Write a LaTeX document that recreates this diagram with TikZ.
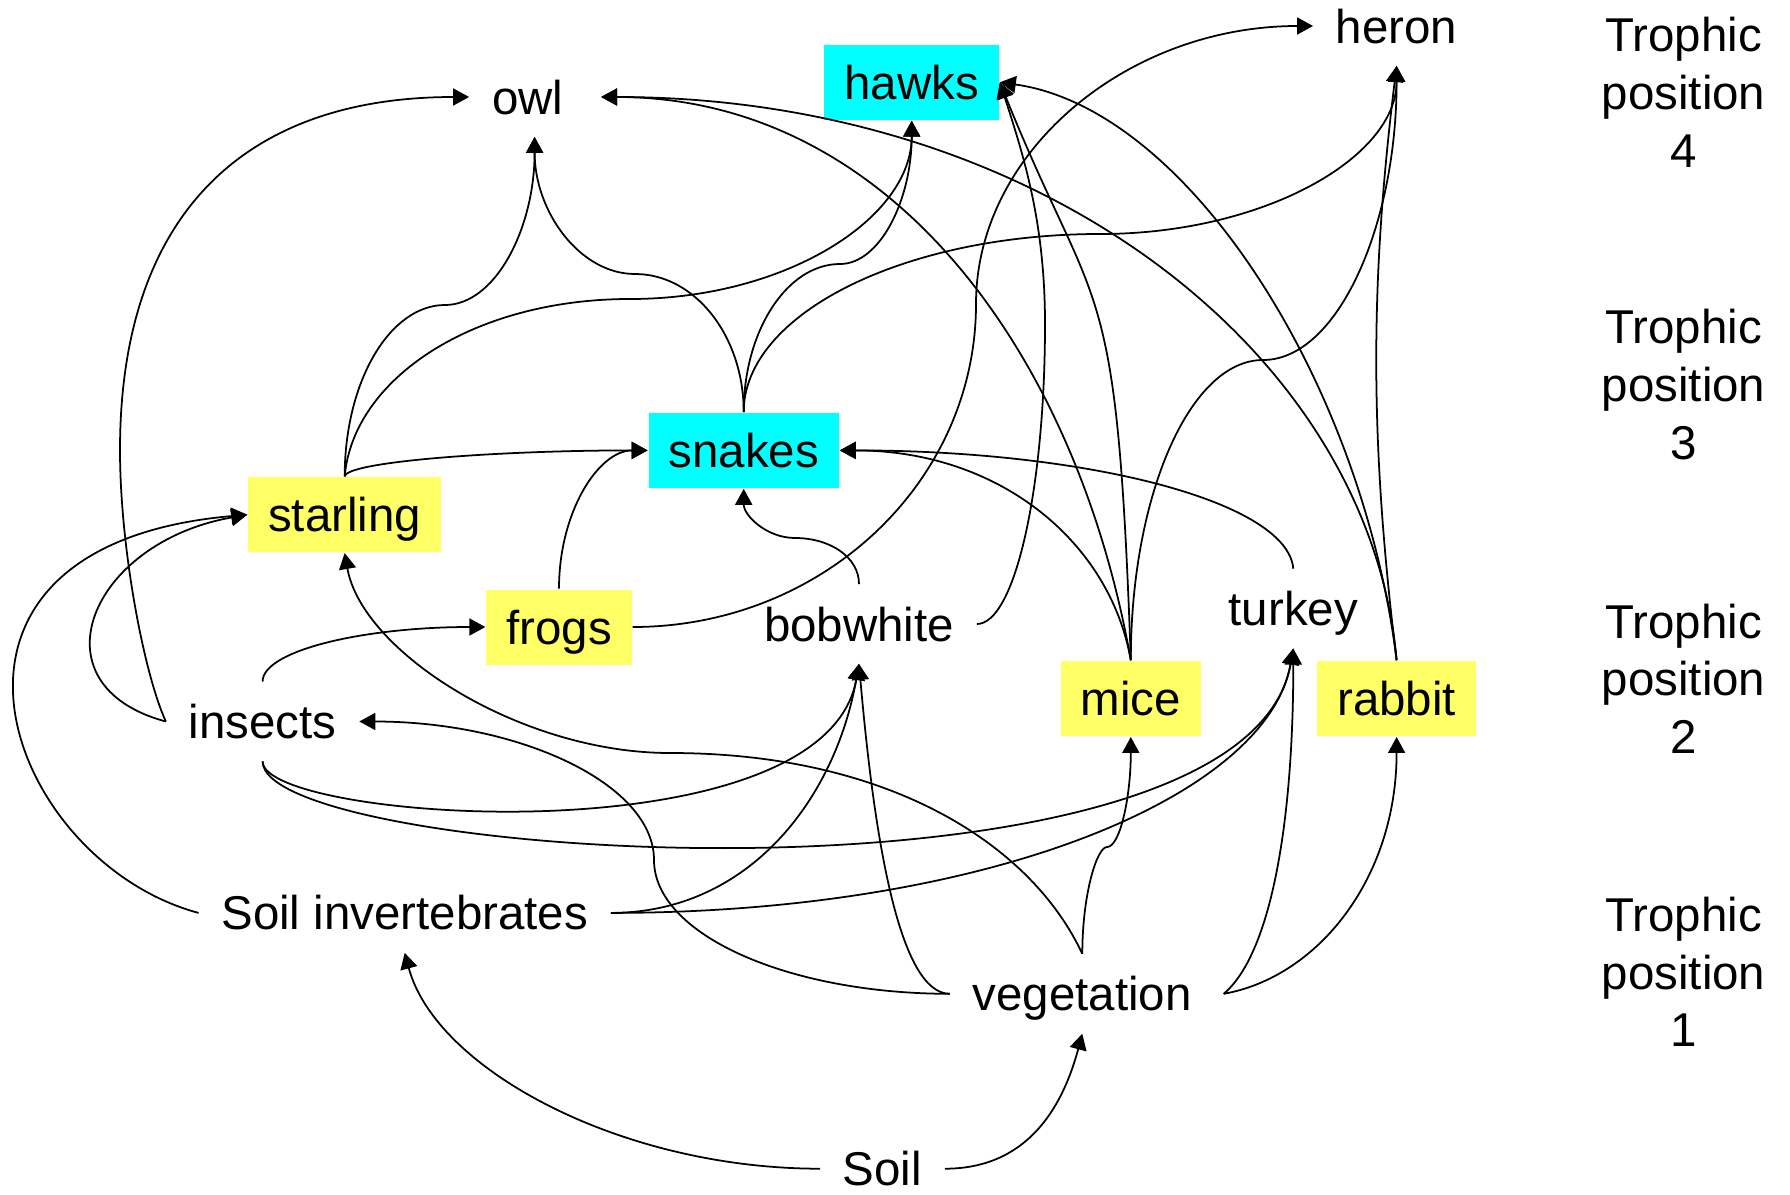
\documentclass[tikz,border=0pt]{standalone}
\usepackage{fontspec}
\setmainfont{Liberation Sans}
\usepackage{xcolor}
\usepackage{tikz}
\usetikzlibrary{arrows.meta,positioning,calc}
\definecolor{preyyel}{RGB}{255,255,102}
\definecolor{predcyan}{RGB}{0,255,255}

\begin{document}
\begin{tikzpicture}[>={Triangle[length=1.6mm,width=1.7mm]}, line width=0.5pt,
  every node/.style={font=\fontsize{13.5}{16.4}\selectfont},
  sp/.style={inner sep=0.22cm,text height=9.7pt,text depth=0pt},
  yb/.style={fill=preyyel,inner xsep=0.2cm,inner ysep=0pt,minimum height=0.75cm,text height=9.7pt,text depth=0pt},
  cb/.style={yb,fill=predcyan},
  lvl/.style={align=center,inner sep=0pt}]
  \useasboundingbox (0,0) rectangle (17.9,11.94);
  \node[sp] (owl) at (5.276,10.97) {owl};
  \node[cb] (hawks) at (9.117,11.117) {hawks};
  \node[sp] (heron) at (13.966,11.68) {heron};
  \node[cb] (snakes) at (7.437,7.436) {snakes};
  \node[yb] (starling) at (3.447,6.793) {starling};
  \node[yb] (frogs) at (5.59,5.67) {frogs};
  \node[sp] (bobwhite) at (8.59,5.70) {bobwhite};
  \node[sp] (turkey) at (12.933,5.854) {turkey};
  \node[yb] (mice) at (11.308,4.954) {mice};
  \node[yb] (rabbit) at (13.966,4.954) {rabbit};
  \node[sp] (insects) at (2.626,4.725) {insects};
  \node[sp] (soilinv) at (4.047,2.811) {Soil invertebrates};
  \node[sp] (veg) at (10.823,2.002) {vegetation};
  \node[sp] (soil) at (8.825,0.253) {Soil};
  \foreach \n/\y in {4/11.018,3/8.094,2/5.153,1/2.22}
    \node[lvl] (tp\n) at (16.836,\y) {Trophic\\position\\\n};
  % soil
  \draw[->] (soil.west) .. controls +(180:2.0) and +(-75:1.2) .. (soilinv.south);
  \draw[->] (soil.east) .. controls +(0:0.8) and +(-105:0.8) .. (veg.south);
  % vegetation
  \draw[->] (veg.west) .. controls +(180:1.63) and +(-90:0.74) .. (6.54,3.34)
    .. controls +(90:0.76) and +(0:1.6) .. (insects.east);
  \draw[->] (veg.west) .. controls +(180:0.5) and +(-85:1.8) .. (bobwhite.south);
  \draw[->] (veg.north) .. controls +(90:0.6) and +(180:0.1) .. (11.07,3.47)
    .. controls +(0:0.13) and +(-90:0.6) .. (mice.south);
  \draw[->] (veg.north) .. controls +(115:1.2) and +(0:2.2) .. (6.7,4.41)
    .. controls +(180:1.5) and +(-80:1.0) .. (starling.south);
  \draw[->] ([xshift=0.9mm]veg.east) .. controls +(40:0.6) and +(-90:1.8) .. (turkey.south);
  \draw[->] ([xshift=0.9mm]veg.east) .. controls +(10:0.95) and +(-90:1.42) .. (rabbit.south);
  % soil invertebrates
  \draw[->] (soilinv.west) .. controls +(165:2.0) and +(185:3.6) .. (starling.west);
  \draw[->] (soilinv.east) .. controls +(0:1.38) and +(-100:1.37) .. (bobwhite.south);
  \draw[->] (soilinv.east) .. controls +(0:3.77) and +(-100:1.5) .. (turkey.south);
  % insects
  \draw[->] (insects.west) .. controls +(165:1.4) and +(190:1.6) .. (starling.west);
  \draw[->] (insects.west) .. controls +(115:0.5) and +(-90:1.0) .. (1.2,7.44)
    .. controls +(90:2.3) and +(180:2.3) .. (owl.west);
  \draw[->] (insects.north) .. controls +(90:0.31) and +(180:1.22) .. (frogs.west);
  \draw[->] (insects.south) .. controls +(-90:0.6) and +(-100:2.0) .. (bobwhite.south);
  \draw[->] (insects.south) .. controls +(-90:1.0) and +(-100:2.8) .. (turkey.south);
  % starling
  \draw[->] (starling.north) .. controls +(90:0.95) and +(180:0.55) .. (4.45,8.89)
    .. controls +(0:0.5) and +(-90:0.92) .. ([xshift=0.7mm]owl.south);
  \draw[->] (starling.north) .. controls +(85:0.98) and +(180:1.57) .. (6.3,8.95)
    .. controls +(0:1.55) and +(-90:0.98) .. (hawks.south);
  \draw[->] (starling.north) .. controls +(80:0.15) and +(180:1.5) .. (snakes.west);
  % frogs
  \draw[->] (frogs.north) .. controls +(90:0.77) and +(180:0.49) .. (snakes.west);
  \draw[->] (frogs.east) .. controls +(0:1.9) and +(-90:1.78) .. (9.76,8.9)
    .. controls +(90:1.52) and +(180:1.86) .. (heron.west);
  % snakes
  \draw[->] (snakes.north) .. controls +(90:0.76) and +(0:0.6) .. (6.35,9.2)
    .. controls +(180:0.55) and +(-90:0.75) .. ([xshift=0.7mm]owl.south);
  \draw[->] (snakes.north) .. controls +(90:0.81) and +(180:0.53) .. (8.4,9.3)
    .. controls +(0:0.4) and +(-90:0.79) .. (hawks.south);
  \draw[->] (snakes.north) .. controls +(90:0.98) and +(180:1.96) .. (11.0,9.6)
    .. controls +(0:1.63) and +(-90:0.92) .. (heron.south);
  % bobwhite
  \draw[->] (bobwhite.north) .. controls +(90:0.27) and +(0:0.35) .. (7.95,6.56)
    .. controls +(180:0.28) and +(-90:0.27) .. (snakes.south);
  \draw[->] (bobwhite.east) .. controls +(0:0.38) and +(-90:1.65) .. (10.45,8.7)
    .. controls +(90:1.0) and +(-72:0.8) .. (hawks.east);
  % mice
  \draw[->] (mice.north) .. controls +(100:3.1) and +(0:2.9) .. ([xshift=1.5mm]owl.east);
  \draw[->] (mice.north) .. controls +(92:4.0) and +(-68:2.6) .. (hawks.east);
  \draw[->] (mice.north) .. controls +(90:1.65) and +(180:0.73) .. (12.63,8.34)
    .. controls +(0:0.74) and +(-90:1.61) .. (heron.south);
  \draw[->] (mice.north) .. controls +(100:1.2) and +(0:1.6) .. (snakes.east);
  % turkey
  \draw[->] (turkey.north) .. controls +(95:0.67) and +(0:2.49) .. (snakes.east);
  % rabbit
  \draw[->] (rabbit.north) .. controls +(95:3.1) and +(0:4.38) .. ([xshift=1.5mm]owl.east);
  \draw[->] (rabbit.north) .. controls +(97:2.8) and +(-8:1.9) .. (hawks.east);
  \draw[->] (rabbit.north) .. controls +(97:2.2) and +(-97:2.2) .. (heron.south);
\end{tikzpicture}
\end{document}
